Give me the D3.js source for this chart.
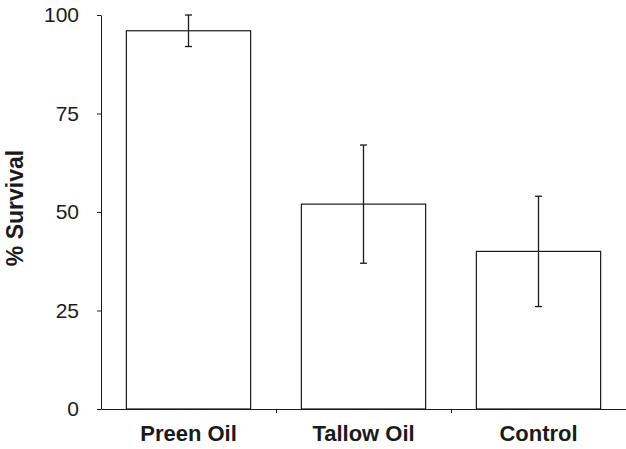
<!DOCTYPE html>
<html lang="en">
<head>
<meta charset="UTF-8">
<title>% Survival</title>
<script src="https://cdn.jsdelivr.net/npm/d3@7"></script>
<style>
    body { margin: 0; background: #fff; }
    svg { display: block; font-family: "Liberation Sans", Arial, sans-serif; }
</style>
</head>
<body>
<svg id="mainsvg" width="626" height="449"></svg>
<script>
    // data
    const categories = ['Preen Oil', 'Tallow Oil', 'Control'];
    const survival = [96, 52, 40];
    const errLow = [92, 37, 26];
    const errHigh = [100, 67, 54];
    const yTicks = [0, 25, 50, 75, 100];

    const svg = d3.select('#mainsvg');
    const ink = '#1a1a1a';

    const margin = {left: 101, right: 626, top: 15, bottom: 409};

    const xScale = d3.scaleBand()
        .domain(categories)
        .range([margin.left, margin.right])
        .paddingInner(0.29)
        .paddingOuter(0.145);

    // boundary ticks between the categories
    const xEdge = d3.scaleLinear().domain([0, categories.length]).range([margin.left, margin.right]);

    const yScale = d3.scaleLinear().domain([0, 100]).range([margin.bottom, margin.top]);

    const data = categories.map((c, i) => ({name: c, v: survival[i], lo: errLow[i], hi: errHigh[i]}));

    // y axis
    const yAxis = svg.append('g')
        .attr('transform', `translate(${margin.left},0)`)
        .call(d3.axisLeft(yScale).tickValues(yTicks).tickSize(4).tickPadding(18).tickSizeOuter(0));
    yAxis.select('.domain').attr('stroke', ink);
    yAxis.selectAll('.tick line').attr('stroke', ink);
    yAxis.selectAll('text')
        .attr('font-size', 21)
        .attr('fill', ink)
        .attr('font-family', '"Liberation Sans", Arial, sans-serif');

    // bars
    svg.selectAll('rect.bar')
        .data(data)
        .join('rect')
        .attr('class', 'bar')
        .attr('x', d => xScale(d.name))
        .attr('y', d => yScale(d.v))
        .attr('width', xScale.bandwidth())
        .attr('height', d => yScale(0) - yScale(d.v))
        .attr('fill', '#fff')
        .attr('stroke', ink)
        .attr('stroke-width', 1.2);

    // x axis line + boundary ticks
    const xAxis = svg.append('g')
        .attr('transform', `translate(0,${margin.bottom})`)
        .call(d3.axisBottom(xEdge).tickValues([1, 2]).tickSize(4).tickSizeOuter(0).tickFormat(''));
    xAxis.select('.domain').attr('stroke', ink).attr('stroke-width', 1.2);
    xAxis.selectAll('.tick line').attr('stroke', ink);

    // category labels
    const xLabels = svg.append('g')
        .attr('transform', `translate(0,${margin.bottom})`)
        .call(d3.axisBottom(xScale).tickSize(0).tickPadding(16));
    xLabels.select('.domain').remove();
    xLabels.selectAll('text')
        .attr('font-size', 22)
        .attr('font-weight', 'bold')
        .attr('fill', ink)
        .attr('font-family', '"Liberation Sans", Arial, sans-serif');

    // error bars
    const cx = d => xScale(d.name) + xScale.bandwidth() / 2;
    const err = svg.append('g').attr('stroke', ink).attr('stroke-width', 1.3);
    err.selectAll('line.stem')
        .data(data)
        .join('line')
        .attr('class', 'stem')
        .attr('x1', cx).attr('x2', cx)
        .attr('y1', d => yScale(d.hi)).attr('y2', d => yScale(d.lo));
    err.selectAll('line.capHi')
        .data(data)
        .join('line')
        .attr('class', 'capHi')
        .attr('x1', d => cx(d) - 3.5).attr('x2', d => cx(d) + 3.5)
        .attr('y1', d => yScale(d.hi)).attr('y2', d => yScale(d.hi));
    err.selectAll('line.capLo')
        .data(data)
        .join('line')
        .attr('class', 'capLo')
        .attr('x1', d => cx(d) - 3.5).attr('x2', d => cx(d) + 3.5)
        .attr('y1', d => yScale(d.lo)).attr('y2', d => yScale(d.lo));

    // y title
    svg.append('text')
        .attr('transform', `translate(23,208) rotate(-90)`)
        .attr('text-anchor', 'middle')
        .attr('font-size', 23)
        .attr('font-weight', 'bold')
        .attr('fill', ink)
        .text('% Survival');
</script>
</body>
</html>
